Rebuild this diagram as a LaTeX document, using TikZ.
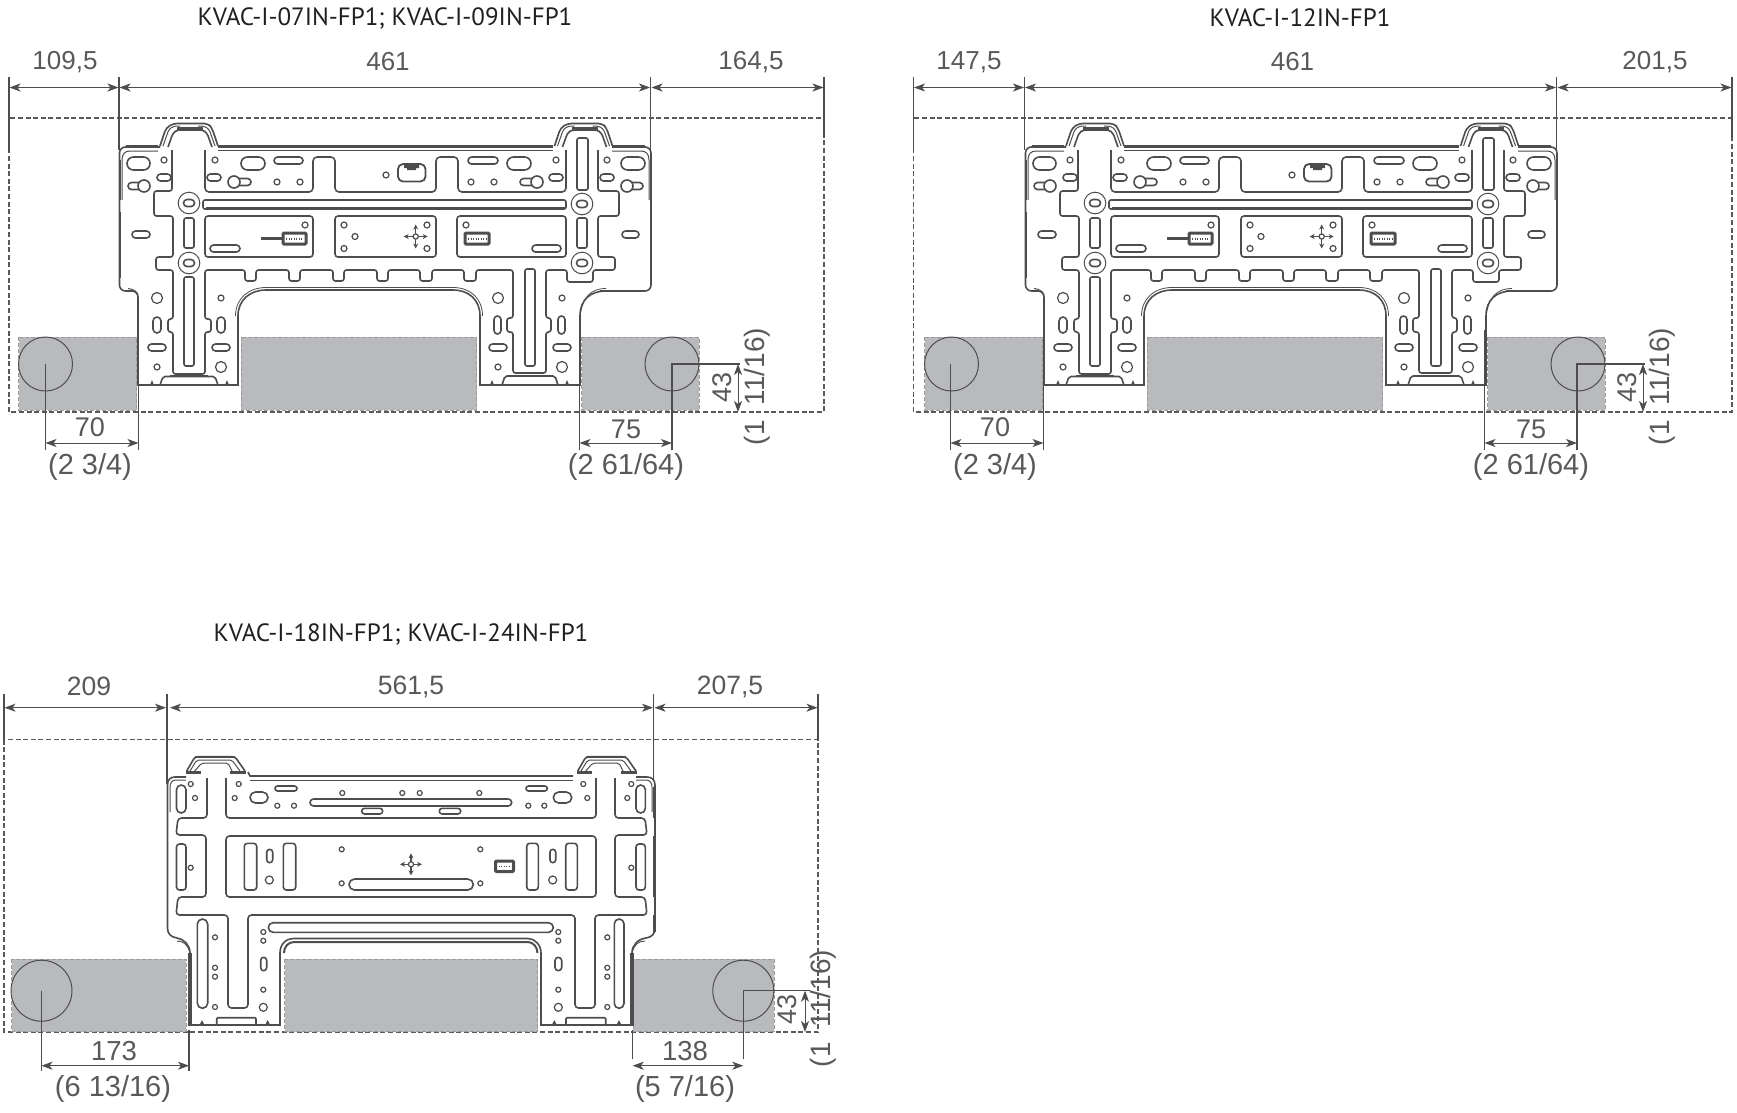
\documentclass[tikz,border=0pt]{standalone}
\usepackage{fontspec}
\setmainfont{Liberation Sans}
\newfontfamily\titlefont{PT Sans}
\usetikzlibrary{arrows.meta}
\definecolor{ink}{HTML}{4D4D4F}
\definecolor{dimtxt}{HTML}{58595B}
\definecolor{titletxt}{HTML}{231F20}
\definecolor{grayfill}{HTML}{B9BABC}
\definecolor{dashc}{HTML}{58595B}
\tikzset{
  plate/.style={draw=ink,line width=1.6pt,line join=round},
  hvy/.style={draw=ink,line width=2.8pt},
  hl/.style={draw=ink,line width=1.2pt},
  dimline/.style={draw=ink,line width=0.9pt,{Stealth[length=11pt,width=8pt,inset=3pt]}-{Stealth[length=11pt,width=8pt,inset=3pt]}},
  extline/.style={draw=ink,line width=1.2pt},
  border/.style={draw=dashc,line width=1.1pt,dash pattern=on 5pt off 2.6pt},
  grayblock/.style={fill=grayfill,draw=dashc!60,line width=0.6pt,dash pattern=on 4pt off 2pt},
  ring/.style={draw=ink,line width=1pt},
  dtxt/.style={text=dimtxt,inner sep=0pt,anchor=center},
  ttl/.style={text=titletxt,inner sep=0pt,anchor=center,font=\titlefont\fontsize{25}{29}\selectfont}
}
\newcommand{\slot}[4]{\pgfmathsetmacro{\rr}{min(abs((#3)-(#1)),abs((#4)-(#2)))/2-0.01}\draw[plate,rounded corners=\rr pt] (#1,#2) rectangle (#3,#4);}
\newcommand{\hole}[3]{\draw[hl] (#1,#2) circle[radius=#3];}
\newcommand{\rbox}[4]{\draw[plate,rounded corners=3pt] (#1,#2) rectangle (#3,#4);}
\newcommand{\crossmark}[3]{%
  \draw[ink,line width=1.5pt,-{Stealth[length=5pt,width=5pt]}] (#1,#2) -- ++(#3,0);
  \draw[ink,line width=1.5pt,-{Stealth[length=5pt,width=5pt]}] (#1,#2) -- ++(-#3,0);
  \draw[ink,line width=1.5pt,-{Stealth[length=5pt,width=5pt]}] (#1,#2) -- ++(0,#3);
  \draw[ink,line width=1.5pt,-{Stealth[length=5pt,width=5pt]}] (#1,#2) -- ++(0,-#3);
  \draw[hl,fill=white] (#1,#2) circle[radius=2.6];}
\newcommand{\chip}[4]{%
  \draw[ink,line width=3pt,rounded corners=1pt] (#1,#2) rectangle (#3,#4);
  \draw[ink,line width=1.3pt,dash pattern=on 1.3pt off 1.2pt] (#1+3,{(#2+#4)/2+0.5}) -- (#3-3,{(#2+#4)/2+0.5});}
\newcommand{\htext}[5]{\node[dtxt,font=\fontsize{#4}{#4}\selectfont] (#1) at (#2,#3) {#5};}
\newcommand{\vtext}[5]{\node[dtxt,rotate=90,font=\fontsize{#4}{#4}\selectfont] (#1) at (#2,#3) {#5};}
\newcommand{\hdim}[4]{\coordinate (#1a) at (#2,#4);\coordinate (#1b) at (#3,#4);\draw[dimline] (#1a) -- (#1b);}
% ---------- small plate
\newcommand{\earAB}{%
  \draw[plate,rounded corners=4pt] (160,146) -- (166,128) -- (173,123.5) -- (208,123.5) -- (212,128) -- (218,146);
  \draw[plate,rounded corners=3pt] (168,147) -- (173,133) -- (177,130) -- (203,130) -- (207,133) -- (212,147);
  \draw[plate,line width=1pt,rounded corners=3pt] (163,146) -- (169,129) -- (174,126) -- (180,126);
  \draw[plate,line width=1pt,rounded corners=3pt] (215,146) -- (209,129) -- (204,126) -- (198,126);
  \draw[hvy] (177,128.5) -- (203,128.5);}
\newcommand{\plateAB}{%
  \earAB
  \begin{scope}[xshift=394.5pt]\earAB\end{scope}
  % outline
  \draw[plate,rounded corners=6pt] (160,147) -- (119.5,147) -- (119.5,291) -- (138,291) -- (138,320);
  \draw[plate] (138,320) -- (138,385) -- (238,385) -- (238,316) .. controls (238,300) and (250,290) .. (266,290) -- (453,290) .. controls (469,290) and (480,300) .. (480,316) -- (480,385) -- (580,385) -- (580,316) .. controls (580,300) and (590,291) .. (606,291);
  \draw[plate,rounded corners=6pt] (600,291) -- (651,291) -- (651,147) -- (612,147);
  \draw[plate,line width=0.8pt] (235.5,316) .. controls (235.5,298) and (249,287.5) .. (266,287.5) -- (280,287.5);
  \draw[plate,line width=0.8pt] (440,287.5) -- (453,287.5) .. controls (470,287.5) and (482.5,298) .. (482.5,316);
  \draw[plate,line width=0.8pt] (440,287.5) -- (280,287.5);
  \draw[plate,line width=0.8pt] (580,316) .. controls (582.5,298) and (590,288.5) .. (606,288.5);
  % heavy parts
  \draw[hvy] (138,332) -- (138,385) -- (238,385) -- (238,318);
  \draw[hvy] (480,318) -- (480,385) -- (580,385) -- (580,332);
  \draw[hvy,line width=2pt] (119.5,160) -- (119.5,200);
  \draw[hvy,line width=2pt] (119.5,212) -- (119.5,278);
  \draw[hvy,line width=2pt] (651,160) -- (651,200);
  \draw[hvy,line width=2pt] (651,212) -- (651,278);
  \draw[hvy] (126,146.5) -- (158,146.5);
  \draw[hvy] (218,146.5) -- (553,146.5);
  \draw[hvy] (612,146.5) -- (645,146.5);
  \draw[plate,line width=1pt] (218,150.5) -- (553,150.5);
  \draw[plate,line width=1pt] (122,200) -- (122,160) .. controls (122,154) and (125,151) .. (130,151) -- (158,151);
  \draw[plate,line width=1pt] (612,151) -- (641,151) .. controls (646,151) and (649,154) .. (649,160) -- (649,200);
  \draw[plate,line width=1pt] (138,295) .. controls (137,292) and (134,289) .. (128,288.5);
  % roads
  \draw[plate,rounded corners=2.5pt] (172,150) -- (172,191) -- (154,191) -- (154,216) -- (173,216) -- (173,257) -- (156,257) -- (156,270) -- (173,270) -- (173,319) -- (168,319) -- (168,332) -- (173,332) -- (173,374) -- (205,374) -- (205,332) -- (211,332) -- (211,319) -- (205,319) -- (205,270) -- (245,270) -- (245,281) -- (256,281) -- (256,270) -- (289,270) -- (289,281) -- (300,281) -- (300,270) -- (333,270) -- (333,281) -- (344,281) -- (344,270) -- (377,270) -- (377,281) -- (388,281) -- (388,270) -- (420,270) -- (420,281) -- (432,281) -- (432,270) -- (464,270) -- (464,281) -- (476,281) -- (476,270) -- (513,270) -- (513,318) -- (507,318) -- (507,332) -- (513,332) -- (513,373) -- (546,373) -- (546,332) -- (551,332) -- (551,318) -- (546,318) -- (546,270) -- (567,270) -- (567,282) -- (593,282) -- (593,270) -- (615,270) -- (615,257) -- (598,257) -- (598,216) -- (619,216) -- (619,191) -- (598,191) -- (598,150);
  % panels
  \draw[plate,rounded corners=4pt] (205,150) -- (205,192) -- (313,192) -- (313,157) -- (335,157) -- (335,192) -- (436,192) -- (436,157) -- (458,157) -- (458,192) -- (566,192) -- (566,150);
  \draw[plate,rounded corners=2pt] (203,200) rectangle (566,209);
  \draw[hvy] (206,208) -- (565,208);
  \rbox{205}{216}{313}{257}
  \rbox{335}{216}{436}{257}
  \rbox{457}{216}{566}{257}
  % rings
  \foreach \rx/\ry in {189/203,189/263,582/204,582/263}{
    \draw[ring] (\rx,\ry) circle[radius=10.8];
    \slot{\rx-5.5}{\ry-3.5}{\rx+5.5}{\ry+3.5}}
  \draw[plate,rounded corners=2pt] (184,218) rectangle (194,248);
  \draw[plate,rounded corners=2pt] (184,277) rectangle (194,366);
  \draw[plate,rounded corners=2pt] (577,218) rectangle (587,248);
  \draw[plate,rounded corners=2pt] (577,138) rectangle (588,190);
  \draw[plate,rounded corners=2pt] (525,269) rectangle (535,366);
  % left side
  \slot{127}{157}{150}{170} \hole{164}{160}{3} \slot{157}{174}{171}{181}
  \slot{128}{182.5}{144}{189.5} \draw[plate,fill=white] (144,186) circle[radius=6];
  \slot{132}{231}{150}{238}
  % top left panel
  \hole{215}{160}{3} \slot{241}{157}{265}{170} \slot{274}{157}{303}{164}
  \slot{207}{174}{221}{181}
  \slot{234}{178.5}{251}{185.5} \draw[plate,fill=white] (234,182) circle[radius=6];
  \hole{277}{182}{3} \hole{300}{182}{3}
  % clip
  \hole{386}{175}{3}
  \draw[plate,line width=1.8pt,rounded corners=5pt] (398,164) -- (425.5,164) -- (425.5,181.5) -- (398,181.5) -- cycle;
  \fill[ink] (404,165) rectangle (419,168) (407,168) rectangle (416,170);
  % top right panel
  \slot{507}{157}{531}{170} \slot{468}{157}{498}{164} \hole{556}{160}{3}
  \slot{549}{174}{563}{181}
  \slot{520}{178.5}{537}{185.5} \draw[plate,fill=white] (537,182) circle[radius=6];
  \hole{471}{182}{3} \hole{494}{182}{3}
  % right side
  \hole{607}{160}{3} \slot{621}{157}{645}{170} \slot{600}{174}{614}{181}
  \slot{627}{182.5}{643}{189.5} \draw[plate,fill=white] (627,186) circle[radius=6];
  \slot{622}{231}{639}{238}
  % panel 2
  \hole{305}{225}{3}
  \draw[ink,line width=3pt] (261,238.5) -- (283,238.5);
  \chip{283}{233}{306}{244}
  \slot{210}{245}{240}{252}
  % panel 3
  \hole{344}{225}{3} \hole{355}{236.5}{3} \hole{344}{248.5}{3} \hole{427}{225}{3} \hole{427}{248.5}{3}
  \crossmark{415.7}{236.5}{12}
  % panel 4
  \hole{466}{225}{3}
  \chip{465}{233}{489}{244}
  \slot{532}{245}{561}{252}
  % left foot
  \hole{157}{298}{5.5} \hole{221}{298}{3}
  \slot{153}{317}{161}{333} \slot{217}{317}{225}{333}
  \slot{148}{344}{166}{351} \slot{212}{344}{230}{351}
  \hole{157}{367}{3} \hole{221}{367}{5.5}
  % right foot
  \hole{498}{298}{5.5} \hole{562}{298}{3}
  \slot{494}{316}{501}{334} \slot{558}{316}{565}{334}
  \slot{489}{344}{507}{351} \slot{553}{344}{571}{351}
  \hole{498}{367}{3} \hole{562}{367}{5.5}
  % base elements
  \draw[plate,rounded corners=2pt] (160,385) -- (163,376.5) -- (215,376.5) -- (218,385);
  \draw[plate,rounded corners=2pt] (502,385) -- (505,376) -- (555,376) -- (558,385);
  \draw[hvy,line width=2pt] (170,375.5) -- (208,375.5);
  \draw[hvy,line width=2pt] (510,375.5) -- (550,375.5);
  \foreach \mx in {152,227,492,567}{\fill[ink] (\mx-2,385) -- (\mx,380) -- (\mx+2,385) -- cycle;}
}
\newcommand{\groundAB}{%
  \draw[grayblock] (18.5,337) rectangle (136.5,410);
  \draw[grayblock] (241,337) rectangle (476.7,410);
  \draw[grayblock] (581.7,337) rectangle (699.3,410);
  \draw[plate,line width=1pt] (45.5,364) circle[radius=27];
  \draw[plate,line width=1pt] (672,364) circle[radius=27];
}
\newcommand{\dimsAB}[1]{%
  \draw[extline] (45.5,364) -- (45.5,450);
  \draw[extline] (138.5,385) -- (138.5,450);
  \hdim{#1s}{45.5}{138.5}{443}
  \htext{#1st}{90}{427}{27}{70}
  \htext{#1sp}{90}{466.5}{29}{(2 3/4)}
  \draw[extline] (579.5,330) -- (579.5,450);
  \draw[extline] (672,450) -- (672,364) -- (740,364);
  \hdim{#1r}{579.5}{672}{443}
  \htext{#1rt}{626}{429}{27}{75}
  \htext{#1rp}{626}{466.5}{29}{(2 61/64)}
  \coordinate (#1va) at (738,364);\coordinate (#1vb) at (738,412);
  \draw[dimline] (#1va) -- (#1vb);
  \vtext{#1vt}{722}{387}{27}{43}
  \vtext{#1vp}{757}{386.5}{28}{(1\hspace{15pt}11/16)}
}
% ---------- large plate
\newcommand{\earC}{%
  \draw[plate,rounded corners=3pt] (186.7,771) -- (195,756.7) -- (235,756.7) -- (245,771);
  \draw[plate,line width=1pt,rounded corners=2pt] (190,771) -- (196.7,760) -- (232,760) -- (240,771);
  \draw[plate,line width=1pt,rounded corners=2pt] (193,773) -- (201.7,763) -- (228,763) -- (233,773);
  \draw[hvy,line width=2.2pt] (195,757) -- (235,757);
  \draw[hvy] (186,772.5) -- (201,772.5);
  \draw[hvy] (230,772.5) -- (246,772.5);}
\newcommand{\plateC}{%
  \earC
  \begin{scope}[xshift=391pt]\earC\end{scope}
  \draw[plate] (190,953) .. controls (190,945) and (184,939) .. (177,938) .. controls (171,937) and (167.5,934) .. (167.5,928) -- (167.5,785) .. controls (167.5,780) and (170,777) .. (175,777) -- (186,777);
  \draw[plate,line width=1pt] (170,812) -- (170,787) .. controls (170,783) and (172,780) .. (176,780) -- (186,780);
  \draw[plate] (636,777) -- (647,777) .. controls (652,777) and (655,780) .. (655,785) -- (655,928) .. controls (655,934) and (652,937) .. (646,938) .. controls (638,939) and (632,945) .. (632,953);
  \draw[plate,line width=1pt] (652,812) -- (652,787) .. controls (652,783) and (650,780) .. (646,780) -- (636,780);
  \draw[hvy,line width=2.2pt] (654.5,787) -- (654.5,818);
  \draw[hvy,line width=2.2pt] (654.5,836) -- (654.5,897);
  \draw[hvy,line width=2.2pt] (654.5,915) -- (654.5,932);
  \draw[plate] (248,772) -- (250,776) -- (573,776);
  \draw[plate,line width=1.8pt] (250,780.5) -- (573,780.5);
  % foot
  \draw[hvy,line width=4.5pt] (190,953) -- (190,1025);
  \draw[hvy,line width=4.5pt] (632,953) -- (632,1025);
  \draw[hvy] (188,1025) -- (280,1025);
  \draw[hvy] (541,1025) -- (634,1025);
  \draw[hvy,line width=2pt] (280,1026) -- (280,953);
  \draw[hvy,line width=2pt] (541,1026) -- (541,953);
  \draw[plate] (280,953) .. controls (280,945) and (285,938.5) .. (294,938.5) -- (528,938.5) .. controls (535,938.5) and (541,945) .. (541,953);
  \draw[plate,line width=2pt] (284,953) .. controls (284,947) and (288,942) .. (294,942) -- (528,942) .. controls (533,942) and (537.5,947) .. (537.5,953);
  \draw[plate,line width=0.9pt] (190,953) .. controls (188,945) and (184,941) .. (177,941);
  \draw[plate,line width=0.9pt] (632,953) .. controls (634,945) and (638,941) .. (645,941);
  % roads
  \draw[plate,rounded corners=3.5pt] (207,778) -- (207,818) -- (178,818) -- (176,835) -- (206,835) -- (206,897) -- (178,897) -- (176,915) -- (228,915) -- (228,1008) -- (248,1008) -- (248,915) -- (575,915) -- (575,1008) -- (595,1008) -- (595,915) -- (647,915) -- (645,897) -- (615,897) -- (615,835) -- (647,835) -- (645,818) -- (615,818) -- (615,778);
  \draw[plate,rounded corners=3.5pt] (226,778) -- (226,818) -- (596,818) -- (596,778);
  \draw[plate,rounded corners=3.5pt] (226,836) rectangle (596,897);
  % top panel
  \foreach \hx/\hy in {190.7/784,195/798,238.7/784,234.7/798,277.3/805.7,294/805.7,342.3/793,402.3/793,419.7/793,479.3/793,528.3/805.7,544.3/805.7,583.3/784,587.3/798,631.3/784,627.3/798,190.7/867.7,631.3/867.7,341.7/849.3,341.7/883.3,480.3/849.3,480.3/883.3,215/937.3,215/967.7,215/976.7,215/1007,263.3/932,263.3/940.7,263.3/989.7,558.3/932,558.3/940.7,558.3/989.7,607.3/937.3,607.3/967.7,607.3/976.7,607.3/1007}{\hole{\hx}{\hy}{2.5}}
  \hole{269.3}{880}{4} \hole{552.7}{880}{4} \hole{263.3}{1007.3}{4} \hole{558.3}{1007.3}{4}
  \slot{176.5}{785}{186}{813}
  \slot{250}{792}{268}{803}
  \slot{275}{786}{297}{791}
  \slot{310}{799}{511.7}{806}
  \slot{361.7}{808.3}{382.7}{814}
  \slot{439.3}{808.3}{460.7}{814}
  \slot{526}{786}{547.3}{791}
  \slot{553.3}{792}{571.7}{803}
  \slot{636}{785}{645.3}{813}
  % middle
  \rbox{176.5}{844}{186}{890}
  \rbox{244.3}{843.3}{256.7}{890}
  \rbox{283.3}{843.3}{295.7}{890}
  \slot{266.7}{849.3}{272.7}{862.7}
  \slot{349}{879}{473.3}{890}
  \crossmark{411}{864.3}{11}
  \chip{495.5}{861}{513.5}{871.5}
  \rbox{526.7}{843.3}{538.3}{890}
  \rbox{565.7}{843.3}{577.3}{890}
  \slot{550}{849.3}{555.7}{862.7}
  \rbox{636}{844}{645.3}{890}
  % lower
  \slot{197.3}{919}{207.7}{1008.3}
  \slot{268.3}{922.7}{553.3}{932.3}
  \slot{260.7}{957.3}{266.7}{970.7}
  \slot{555}{957.3}{561.7}{970.7}
  \slot{614.3}{919}{624}{1008.3}
  \draw[plate,rounded corners=1pt] (216.7,1025) -- (216.7,1017.7) -- (256,1017.7) -- (256,1025);
  \draw[plate,rounded corners=1pt] (566,1025) -- (566,1017.7) -- (605.7,1017.7) -- (605.7,1025);
  \foreach \mx in {202,267.7,554.3,619}{\fill[ink] (\mx-2.5,1025) -- (\mx,1020) -- (\mx+2.5,1025) -- cycle;}
}
\begin{document}
\begin{tikzpicture}[x=1pt,y=-1pt]
\useasboundingbox (0,0) rectangle (1737,1112);
\fill[white] (0,0) rectangle (1737,1112);
% ================ A
\draw[border] (9,118) rectangle (824,412);
\groundAB
\plateAB
\draw[extline,line width=1.5pt] (9,77) -- (9,152);
\draw[extline,line width=1.5pt] (119,77) -- (119,150);
\draw[extline,line width=1.5pt] (650.7,77) -- (650.7,150);
\draw[extline,line width=1.5pt] (824,77) -- (824,137);
\hdim{aa}{9.5}{118.5}{87.5}
\hdim{ab}{119.5}{650}{87.5}
\hdim{ac}{651.5}{823.5}{87.5}
\htext{at1}{65}{62}{26}{109,5}
\htext{at2}{388}{62}{26}{461}
\htext{at3}{751}{62}{26}{164,5}
\node[ttl] (atitle) at (385,18) {KVAC-I-07IN-FP1; KVAC-I-09IN-FP1};
\dimsAB{a}
% ================ B
\draw[border] (913.5,118) rectangle (1732,412);
\begin{scope}[xshift=906pt]
\groundAB
\plateAB
\end{scope}
\draw[extline,line width=1.5pt] (913.5,77) -- (913.5,152);
\draw[extline,line width=1.5pt] (1024.5,77) -- (1024.5,150);
\draw[extline,line width=1.5pt] (1556.7,77) -- (1556.7,150);
\draw[extline,line width=1.5pt] (1732,77) -- (1732,137);
\hdim{ba}{914}{1024}{87.5}
\hdim{bb}{1025}{1556}{87.5}
\hdim{bc}{1557.5}{1731.5}{87.5}
\htext{bt1}{969}{62}{26}{147,5}
\htext{bt2}{1292.5}{62}{26}{461}
\htext{bt3}{1655}{62}{26}{201,5}
\node[ttl] (btitle) at (1300,18) {KVAC-I-12IN-FP1};
\begin{scope}[xshift=905pt]
\dimsAB{b}
\end{scope}
% ================ C
\draw[border] (4,739.5) rectangle (818,1032);
\draw[grayblock] (11.5,959) rectangle (186,1031.7);
\draw[grayblock] (284.5,959) rectangle (537.7,1031.7);
\draw[grayblock] (633,959) rectangle (774,1031.7);
\draw[plate,line width=1pt] (41.5,990.7) circle[radius=30.5];
\draw[plate,line width=1pt] (743.3,990.7) circle[radius=30.5];
\plateC
\draw[extline] (4,694) -- (4,740);
\draw[extline] (167,694) -- (167,784);
\draw[extline] (653.7,694) -- (653.7,780);
\draw[extline] (818,694) -- (818,740);
\hdim{ca}{4.5}{166}{707.7}
\hdim{cb}{170}{653}{707.7}
\hdim{cc}{654.5}{817.5}{707.7}
\htext{ct1}{89}{686.5}{26.5}{209}
\htext{ct2}{411}{686.5}{26.5}{561,5}
\htext{ct3}{730}{686.5}{26.5}{207,5}
\node[ttl] (ctitle) at (401,634) {KVAC-I-18IN-FP1; KVAC-I-24IN-FP1};
\draw[extline] (41.5,990.7) -- (41.5,1071);
\draw[extline] (189,1030) -- (189,1071);
\hdim{cs}{41.5}{189}{1065.7}
\htext{cst}{114}{1051}{27.5}{173}
\htext{csp}{113}{1089}{29}{(6 13/16)}
\draw[extline] (632.7,1030) -- (632.7,1059);
\draw[extline] (743.3,1059) -- (743.3,990.7) -- (810,990.7);
\hdim{cr}{632.7}{743.3}{1065.7}
\htext{crt}{685}{1051}{27.5}{138}
\htext{crp}{685}{1089}{29}{(5 7/16)}
\coordinate (cva) at (805,990.7);\coordinate (cvb) at (805,1032);
\draw[dimline] (cva) -- (cvb);
\vtext{cvt}{787}{1009}{27}{43}
\vtext{cvp}{823}{1008.5}{28}{(1\hspace{15pt}11/16)}
\end{tikzpicture}
\end{document}
